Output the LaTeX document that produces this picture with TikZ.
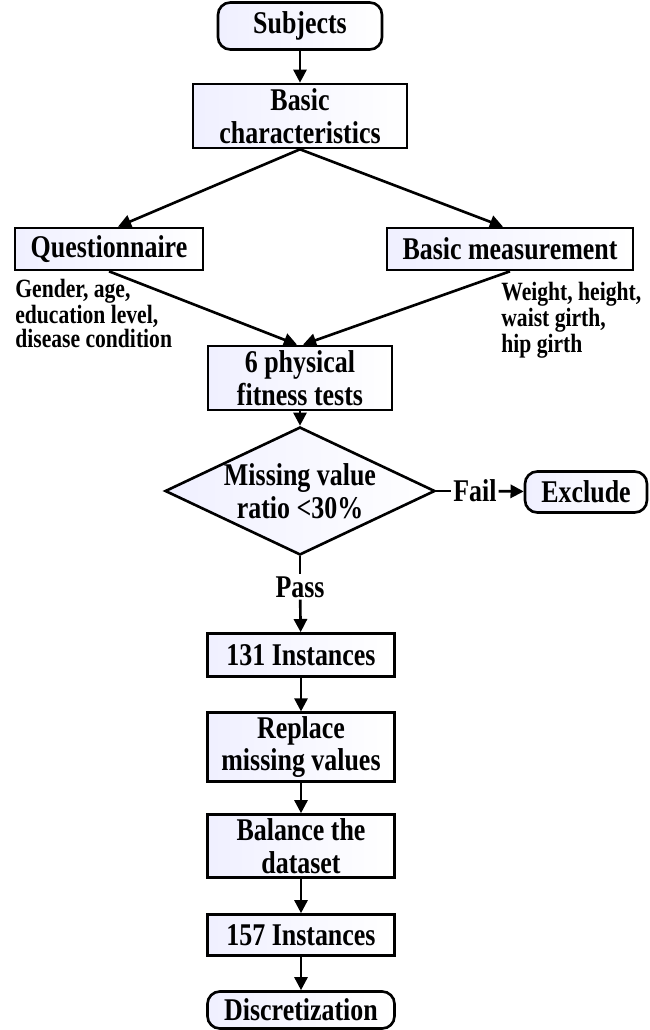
\documentclass[tikz,border=0pt]{standalone}
\usepackage{fontspec}
\setmainfont{Liberation Serif}[FakeStretch=0.82]
\usetikzlibrary{arrows.meta,shapes.geometric}

\begin{document}
\begin{tikzpicture}[x=0.02cm,y=-0.02cm,
  font=\fontsize{18}{18.5}\selectfont\bfseries,
  box/.style={draw,line width=1.5pt,left color=blue!6!white,right color=white,
    align=center,inner sep=2pt,minimum width=3.74cm},
  term/.style={box,rounded corners=7pt},
  note/.style={align=left,inner sep=0pt,anchor=north west,
    font=\fontsize{15}{11.6}\selectfont\bfseries},
  flow/.style={line width=1.5pt,-{Triangle[length=7.5pt,width=7.5pt]}}]
\useasboundingbox (0,0) rectangle (649,1030);
\node[term,minimum width=3.28cm,minimum height=0.94cm] (subj) at (300,26) {Subjects};
\node[box,minimum width=4.28cm,minimum height=1.28cm] (basic) at (300,116) {Basic\\characteristics};
\node[box,minimum width=3.76cm,minimum height=0.84cm] (quest) at (109,249) {Questionnaire};
\node[box,minimum width=4.92cm,minimum height=0.84cm] (meas) at (510,249) {Basic measurement};
\node[note] (qnote) at (15,279) {Gender, age,\\education level,\\disease condition};
\node[note] (mnote) at (501,282) {Weight, height,\\waist girth,\\hip girth};
\node[box,minimum width=3.68cm,minimum height=1.28cm] (tests) at (300,378) {6 physical\\fitness tests};
\node[box,diamond,aspect=2.1,inner sep=0pt,minimum width=5.4cm,minimum height=2.56cm] (check) at (300,491) {Missing value\\ratio <30\%};
\node[inner sep=1pt] (fail) at (475,491) {Fail};
\node[term,minimum width=2.44cm,minimum height=0.82cm] (excl) at (586,492) {Exclude};
\node[inner sep=1pt] (pass) at (300,587) {Pass};
\node[box,minimum height=0.86cm] (inst1) at (301,655) {131 Instances};
\node[box,minimum height=1.28cm] (repl) at (301,747) {Replace\\missing values};
\node[box,minimum height=1.26cm] (bal) at (301,846) {Balance the\\dataset};
\node[box,minimum height=0.82cm] (inst2) at (301,935) {157 Instances};
\node[term,minimum height=0.74cm] (disc) at (301,1010) {Discretization};
\draw[flow] (subj) -- (basic);
\draw[flow] (basic.south) -- ([xshift=0.18cm]quest.north);
\draw[flow] (basic.south) -- ([xshift=-0.14cm]meas.north);
\draw[flow] (quest.south) -- ([xshift=-0.06cm]tests.north);
\draw[flow] (meas.south) -- ([xshift=0.06cm]tests.north);
\draw[flow] (tests) -- (check);
\draw[line width=1.5pt] (check.east) -- (fail);
\draw[flow] (fail) -- (excl);
\draw[line width=1.5pt] (check.south) -- (pass);
\draw[flow] (pass) -- (inst1);
\draw[flow] (inst1) -- (repl);
\draw[flow] (repl) -- (bal);
\draw[flow] (bal) -- (inst2);
\draw[flow] (inst2) -- (disc);
\end{tikzpicture}
\end{document}
